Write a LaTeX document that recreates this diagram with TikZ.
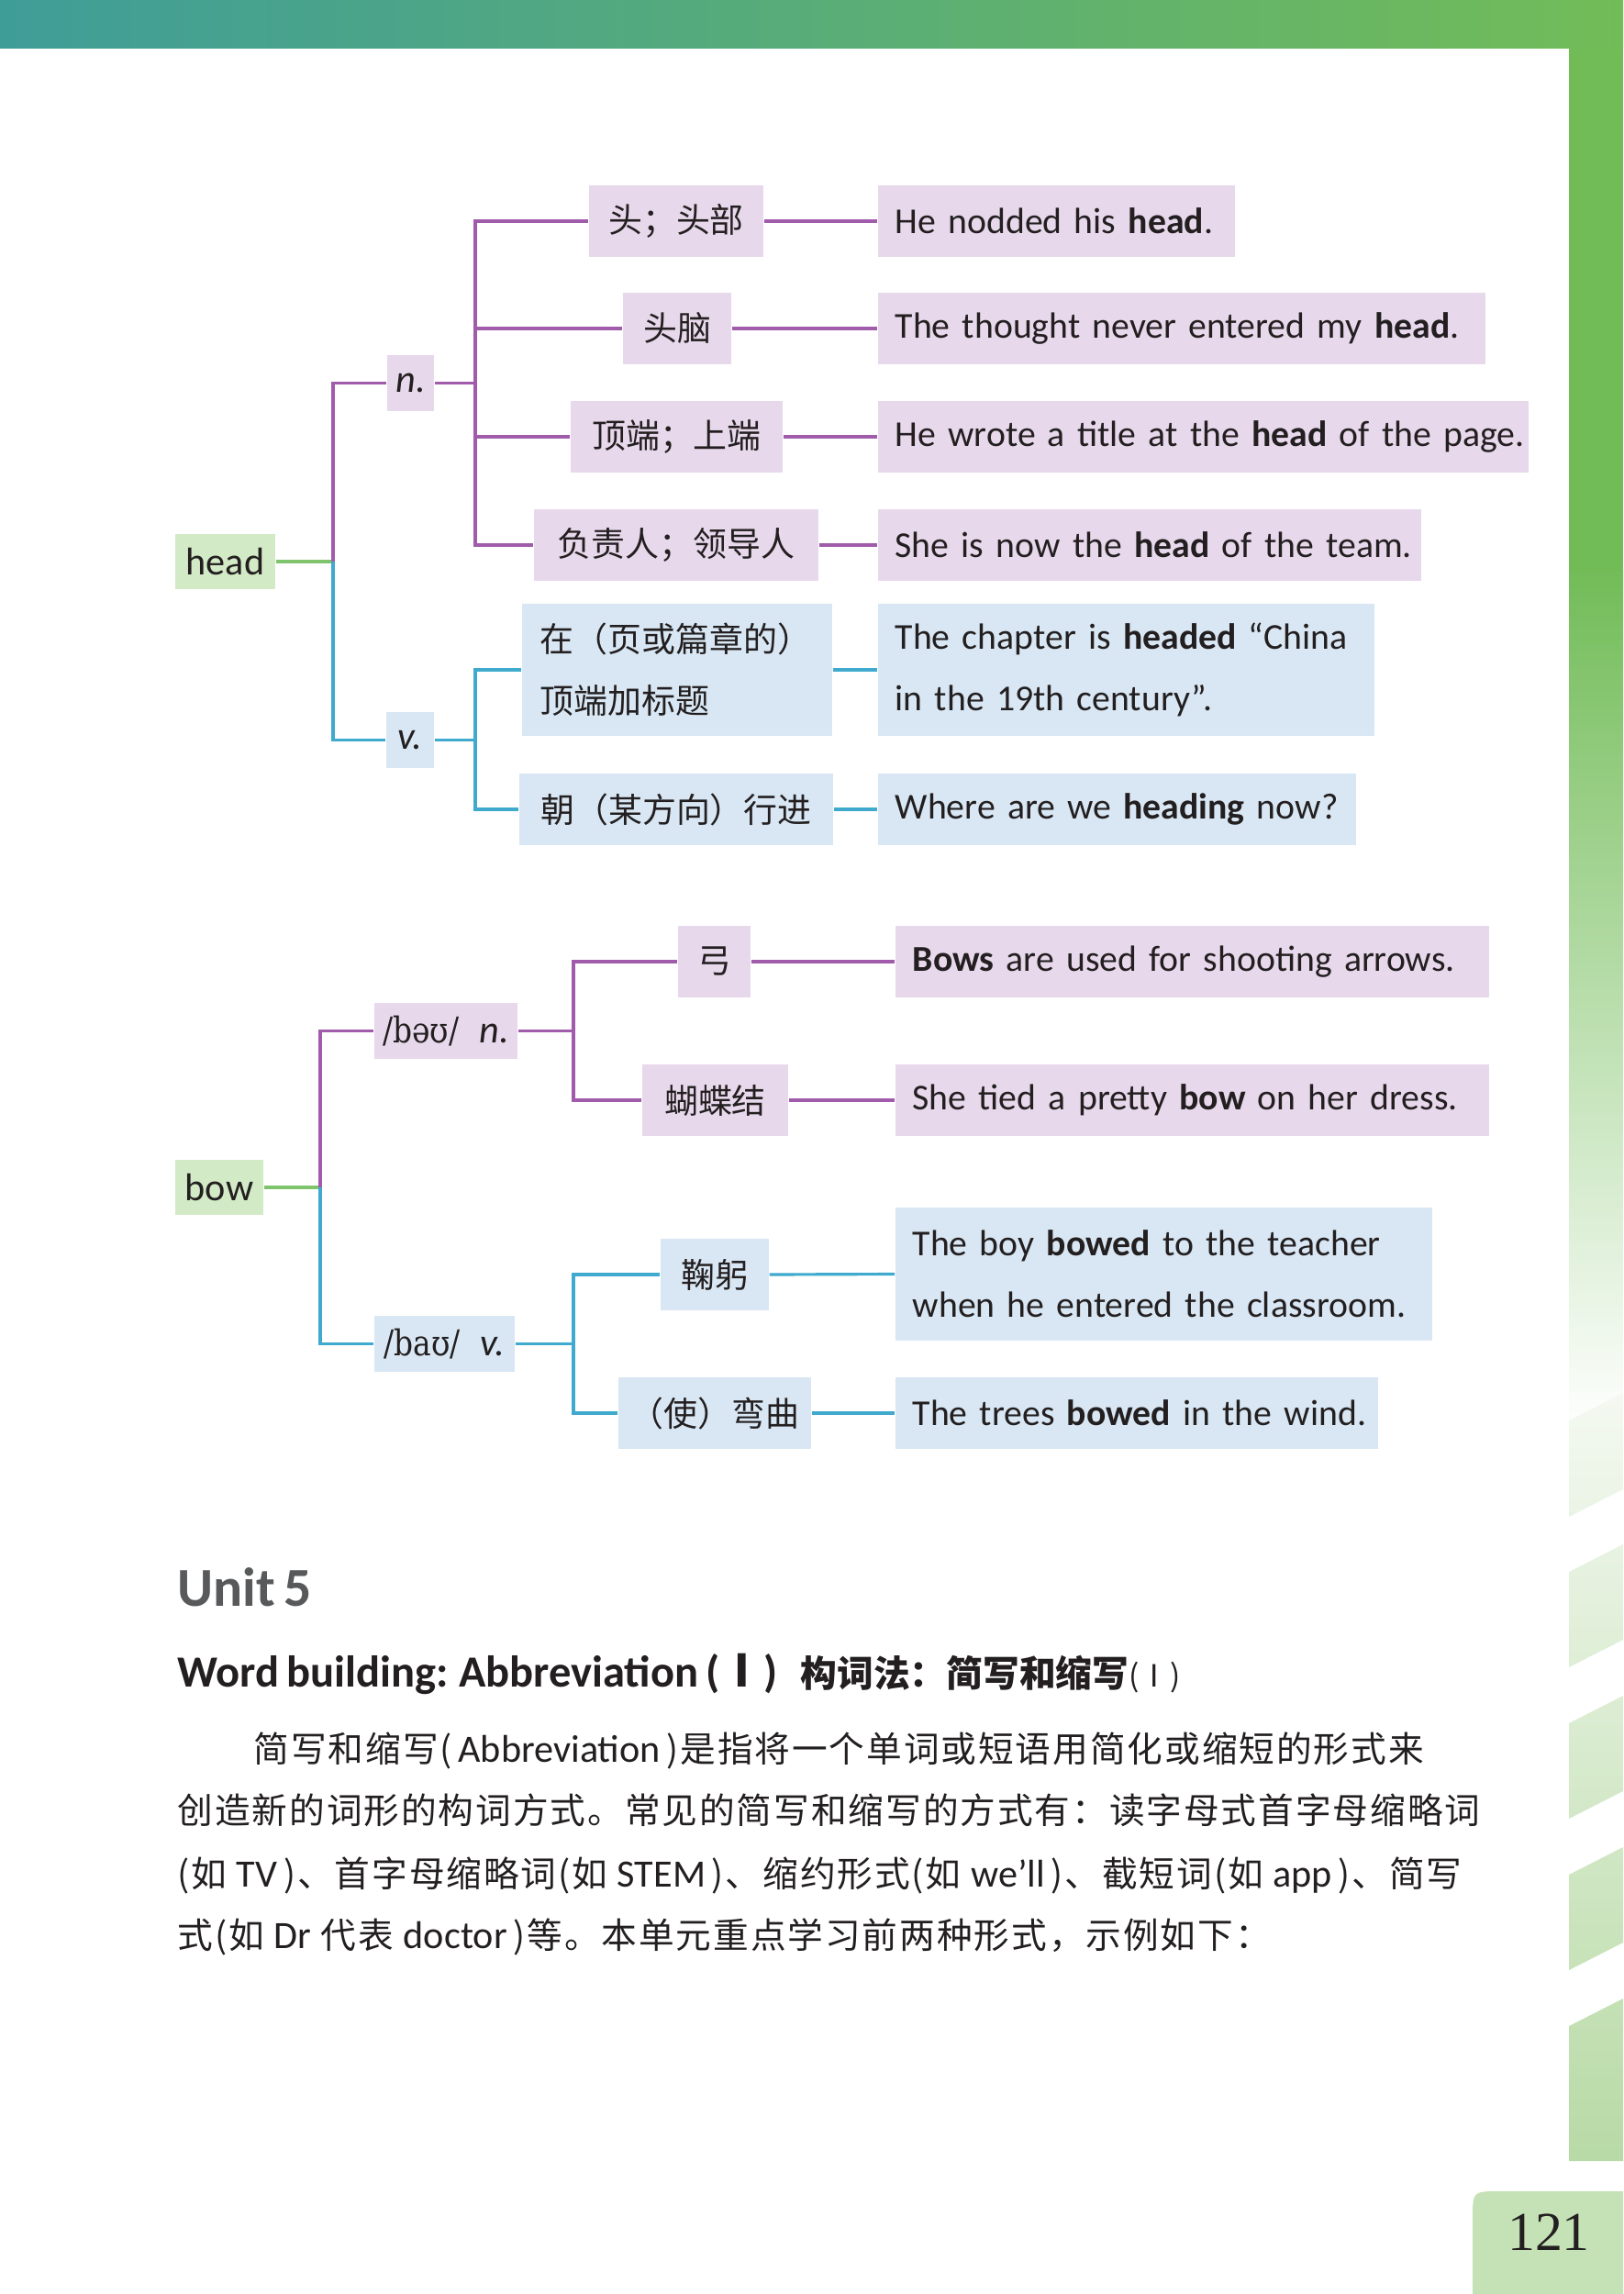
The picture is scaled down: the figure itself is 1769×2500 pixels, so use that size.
\documentclass[tikz,border=0pt]{standalone}
\usepackage{fontspec}
\setmainfont{Carlito}[WordSpace=0.7]
\newfontfamily\cjk{Noto Sans CJK SC}
\newfontfamily\ipafont{DejaVu Serif}[FakeStretch=0.85]
\newfontfamily\parafont{Noto Sans CJK SC}[LetterSpace=5]
\newfontfamily\numfont{Liberation Serif}
\newcommand{\en}[1]{{\normalfont\fontsize{12}{19}\selectfont #1}}

\definecolor{txt}{HTML}{231F20}
\definecolor{pFill}{HTML}{E7D8EB}
\definecolor{pLine}{HTML}{A05CAB}
\definecolor{bFill}{HTML}{D8E7F3}
\definecolor{bLine}{HTML}{3FAACD}
\definecolor{gFill}{HTML}{D3EAC6}
\definecolor{gLine}{HTML}{7FC46C}
\definecolor{barLeft}{HTML}{3F9D98}
\definecolor{barRight}{HTML}{72BC58}
\definecolor{stripTop}{HTML}{F4F9F1}
\definecolor{stripBottom}{HTML}{B8DAA6}
\definecolor{pageGreen}{HTML}{C4E2B6}
\definecolor{unitGray}{HTML}{58595B}

\begin{document}
\begin{tikzpicture}[x=0.01cm, y=-0.01cm,
    every node/.append style={text=txt},
    rootbox/.style={fill=gFill, inner sep=0pt, minimum height=0.60cm,
        font=\fontsize{12}{14}\selectfont},
    clsbox/.style={inner sep=0pt, minimum height=0.61cm, minimum width=#1,
        font=\fontsize{12}{14}\selectfont},
    meanbox/.style={inner sep=0pt, minimum height=0.78cm, minimum width=#1,
        font=\cjk\fontsize{10.5}{19}\selectfont},
    exbox/.style={anchor=west, inner xsep=0.19cm, inner ysep=0pt,
        minimum height=0.78cm, align=left, text width=#1,
        font=\fontsize{11.3}{19}\selectfont},
    pbg/.style={fill=pFill}, bbg/.style={fill=bFill},
    plink/.style={draw=pLine, line width=0.9pt},
    blink/.style={draw=bLine, line width=0.9pt},
    glink/.style={draw=gLine, line width=0.9pt}]

\useasboundingbox (0,0) rectangle (1769,2500);

% Page decoration
\shade[left color=barLeft, right color=barRight] (0,0) rectangle (1769,53);
\fill[barRight] (1710,53) rectangle (1769,620);
\shade[top color=barRight, bottom color=white] (1710,620) rectangle (1769,1560);
\begin{scope}
\clip \foreach \t/\b in {1548/1653, 1713/1817, 1878/1982, 2043/2147}
    {(1710,\t) -- (1769,\t-30) -- (1769,\b-30) -- (1710,\b) -- cycle}
    (1710,2208) -- (1769,2178) -- (1769,2355) -- (1710,2355) -- cycle;
\shade[top color=stripTop, bottom color=stripBottom] (1710,1515) rectangle (1769,2355);
\end{scope}
\fill[pageGreen] (1605,2500) -- (1605,2418) .. controls (1605,2388) .. (1635,2388)
    -- (1769,2388) -- (1769,2500) -- cycle;
\node[anchor=base, font=\numfont\fontsize{17}{20}\selectfont] (pagenum) at (1688,2452) {121};

% Tree: head
\node[rootbox, minimum width=1.09cm] (head) at (245.5,612) {head};
\node[clsbox=0.51cm, pbg] (hn) at (447.5,417.5) {\textit{n.}};
\node[clsbox=0.52cm, bbg] (hv) at (447,806.5) {\textit{v.}};

\node[meanbox=1.90cm, pbg] (hm1) at (737,241) {头；头部};
\node[meanbox=1.18cm, pbg] (hm2) at (738,358) {头脑};
\node[meanbox=2.31cm, pbg] (hm3) at (737.5,476) {顶端；上端};
\node[meanbox=3.10cm, pbg] (hm4) at (737,594) {负责人；领导人};
\node[meanbox=3.38cm, bbg, minimum height=1.44cm, inner xsep=0.2cm,
    text width=2.98cm, align=left] (hm5) at (738,730) {在（页或篇章的）\\顶端加标题};
\node[meanbox=3.42cm, bbg] (hm6) at (737,882) {朝（某方向）行进};

\node[exbox=3.51cm, pbg] (he1) at (956,241) {\mbox{He nodded his \textbf{head}.}};
\node[exbox=6.24cm, pbg] (he2) at (956,358) {\mbox{The thought never entered my \textbf{head}.}};
\node[exbox=6.71cm, pbg] (he3) at (956,476) {\mbox{He wrote a title at the \textbf{head} of the page.}};
\node[exbox=5.54cm, pbg] (he4) at (956,594) {\mbox{She is now the \textbf{head} of the team.}};
\node[exbox=5.03cm, bbg, minimum height=1.44cm] (he5) at (956,730)
    {\mbox{The chapter is \textbf{headed} “China}\\\mbox{in the 19th century”.}};
\node[exbox=4.83cm, bbg] (he6) at (956,882) {\mbox{Where are we \textbf{heading} now?}};

\coordinate (hj) at (363,612);
\coordinate (nj) at (518,417.5);
\coordinate (vj) at (518,806.5);
\draw[glink] (head.east) -- (hj);
\draw[plink] (hj) |- (hn.west);
\draw[blink] (hj) |- (hv.west);
\draw[plink] (hn.east) -- (nj);
\draw[blink] (hv.east) -- (vj);
\foreach \m/\e in {hm1/he1, hm2/he2, hm3/he3, hm4/he4} {
    \draw[plink] (nj) |- (\m.west);
    \draw[plink] (\m.east) -- (\e.west);
}
\foreach \m/\e in {hm5/he5, hm6/he6} {
    \draw[blink] (vj) |- (\m.west);
    \draw[blink] (\m.east) -- (\e.west);
}

% Tree: bow
\node[rootbox, minimum width=0.96cm] (bow) at (239,1294) {bow};
\node[clsbox=1.56cm, pbg] (bn) at (486,1123.5)
    {{\ipafont\fontsize{11}{14}\selectfont /bəʊ/}\hspace{0.22cm}\textit{n.}};
\node[clsbox=1.53cm, bbg] (bv) at (484.5,1464.5)
    {{\ipafont\fontsize{11}{14}\selectfont /baʊ/}\hspace{0.22cm}\textit{v.}};

\node[meanbox=0.79cm, pbg] (bm1) at (778.5,1048) {弓};
\node[meanbox=1.59cm, pbg] (bm2) at (779.5,1199) {蝴蝶结};
\node[meanbox=1.18cm, bbg] (bm3) at (779,1389) {鞠躬};
\node[meanbox=2.10cm, bbg] (bm4) at (779,1540) {（使）弯曲};

\node[exbox=6.09cm, pbg] (be1) at (975,1048) {\mbox{\textbf{Bows} are used for shooting arrows.}};
\node[exbox=6.09cm, pbg] (be2) at (975,1199) {\mbox{She tied a pretty \textbf{bow} on her dress.}};
\node[exbox=5.47cm, bbg, minimum height=1.45cm] (be3) at (975,1388.5)
    {\mbox{The boy \textbf{bowed} to the teacher}\\\mbox{when he entered the classroom.}};
\node[exbox=4.88cm, bbg] (be4) at (975,1540) {\mbox{The trees \textbf{bowed} in the wind.}};

\coordinate (bj) at (349,1294);
\coordinate (bnj) at (625,1123.5);
\coordinate (bvj) at (625,1464.5);
\draw[glink] (bow.east) -- (bj);
\draw[plink] (bj) |- (bn.west);
\draw[blink] (bj) |- (bv.west);
\draw[plink] (bn.east) -- (bnj);
\draw[blink] (bv.east) -- (bvj);
\foreach \m/\e in {bm1/be1, bm2/be2} {
    \draw[plink] (bnj) |- (\m.west);
    \draw[plink] (\m.east) -- (\e.west);
}
\foreach \m/\e in {bm3/be3, bm4/be4} {
    \draw[blink] (bvj) |- (\m.west);
    \draw[blink] (\m.east) -- (\e.west);
}

% Unit 5 text
\node[anchor=base west, inner sep=0pt, text=unitGray, font=\fontsize{17}{20}\selectfont\bfseries]
    (unit) at (193,1750) {Unit 5};
\node[anchor=base west, inner sep=0pt, font=\fontsize{13.8}{16}\selectfont\bfseries] (wbtitle) at (193,1838)
    {Word building: Abbreviation ({\cjk Ⅰ})\hspace{0.25cm}{\cjk\fontsize{11.3}{16}\selectfont 构词法：简写和缩写}{\cjk\fontsize{9.5}{16}\selectfont\mdseries (Ⅰ)}};

\node[anchor=base west, inner sep=0pt, font=\parafont\fontsize{11}{19}\selectfont] (para1) at (276,1920)
    {简写和缩写(\en{ Abbreviation })是指将一个单词或短语用简化或缩短的形式来};
\node[anchor=base west, inner sep=0pt, font=\parafont\fontsize{11}{19}\selectfont] (para2) at (193,1987)
    {创造新的词形的构词方式。常见的简写和缩写的方式有：读字母式首字母缩略词};
\node[anchor=base west, inner sep=0pt, font=\parafont\fontsize{11}{19}\selectfont] (para3) at (193,2056)
    {(如 \en{TV })、首字母缩略词(如 \en{STEM })、缩约形式(如 \en{we’ll })、截短词(如 \en{app })、简写};
\node[anchor=base west, inner sep=0pt, font=\parafont\fontsize{11}{19}\selectfont] (para4) at (193,2123)
    {式(如 \en{Dr} 代表 \en{doctor })等。本单元重点学习前两种形式，示例如下：};

\end{tikzpicture}
\end{document}
